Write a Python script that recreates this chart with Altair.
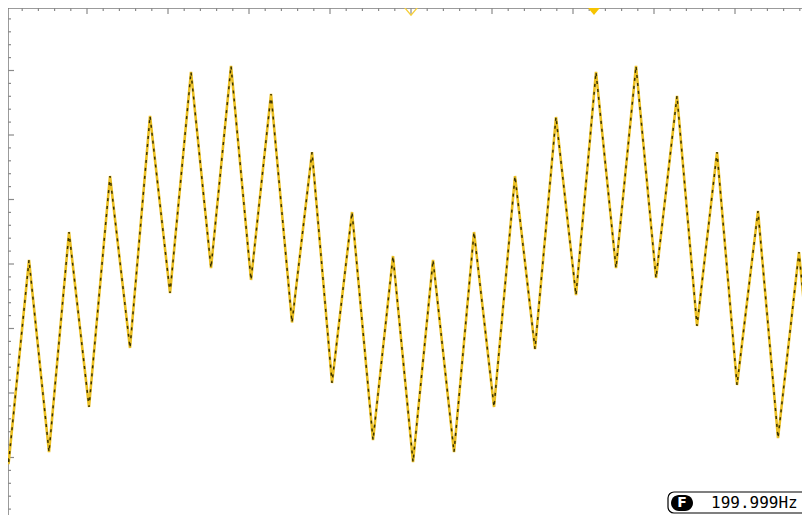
import altair as alt
import pandas as pd

# Waveform vertices: time and voltage in graticule divisions
t_div = [0.012, 0.031, 0.284, 0.531, 0.778, 1.025, 1.284, 1.531, 1.778, 2.025,
         2.284, 2.531, 2.778, 3.025, 3.272, 3.531, 3.778, 4.025, 4.272, 4.531,
         4.778, 5.025, 5.272, 5.531, 5.778, 6.025, 6.284, 6.531, 6.790, 7.037,
         7.284, 7.531, 7.778, 8.025, 8.284, 8.531, 8.778, 9.025, 9.284, 9.531,
         9.790, 10.037]
v_div = [-2.884, -3.101, 0.062, -2.915, 0.496, -2.217, 1.364, -1.302, 2.295, -0.450,
         2.977, -0.062, 3.070, -0.248, 2.636, -0.907, 1.736, -1.845, 0.806, -2.729,
         0.124, -3.070, 0.062, -2.915, 0.496, -2.217, 1.364, -1.318, 2.279, -0.481,
         2.977, -0.062, 3.070, -0.217, 2.605, -0.961, 1.736, -1.876, 0.822, -2.698,
         0.186, -3.070]

# Markers at top of screen (division positions)
marker_t = [5.0, 7.259]
marker_filled = [False, True]

freq_label = "199.999Hz"
freq_badge = "F"

PX_X = 81.0   # pixels per horizontal division
PX_Y = 64.5   # pixels per vertical division
W, H = 794, 507
x_dom = [2 / PX_X, 2 / PX_X + W / PX_X]
y_top = 256 / PX_Y
y_dom = [y_top - H / PX_Y, y_top]

xs = alt.Scale(domain=x_dom, nice=False, zero=False)
ys = alt.Scale(domain=y_dom, nice=False, zero=False)

wave = pd.DataFrame({"t": t_div, "v": v_div})

# graticule frame and ticks
rows = []
rows.append(dict(x=x_dom[0], x2=x_dom[0], y=y_dom[0], y2=y_dom[1]))
rows.append(dict(x=x_dom[0], x2=x_dom[1], y=y_dom[1], y2=y_dom[1]))
frame = pd.DataFrame(rows)

ticks = []
for k in range(1, 50):
    u = 0.2 * k
    major = (k % 5 == 0)
    ln = (6 if major else 3) / PX_Y
    ticks.append(dict(x=u, x2=u, y=y_dom[1], y2=y_dom[1] - ln))
for k in range(-19, 20):
    v = 0.2 * k
    major = (k % 5 == 0)
    ln = (6 if major else 3) / PX_X
    ticks.append(dict(x=x_dom[0], x2=x_dom[0] + ln, y=v, y2=v))
tick_df = pd.DataFrame(ticks)

base_enc = dict(
    x=alt.X("x:Q", scale=xs, axis=None),
    x2="x2:Q",
    y=alt.Y("y:Q", scale=ys, axis=None),
    y2="y2:Q",
)

frame_layer = alt.Chart(frame).mark_rule(color="#7a7a7a", strokeWidth=1.5).encode(**base_enc)
tick_layer = alt.Chart(tick_df).mark_rule(color="#8a8a8a", strokeWidth=1.2).encode(**base_enc)

wave_x = alt.X("t:Q", scale=xs, axis=None)
wave_y = alt.Y("v:Q", scale=ys, axis=None)
wave_yellow = alt.Chart(wave).mark_line(color="#ecc024", strokeWidth=2.6, clip=True).encode(
    x=wave_x, y=wave_y, order="t:Q")
wave_dark = alt.Chart(wave).mark_line(color="#3b3300", strokeWidth=1.5, strokeDash=[3, 5],
                                      clip=True).encode(x=wave_x, y=wave_y, order="t:Q")

tri = "M -1 -0.6 L 1 -0.6 L 0 0.6 Z"
mk = pd.DataFrame({"t": marker_t, "filled": marker_filled,
                   "v": [y_top - 2.5 / PX_Y] * len(marker_t)})
mk_hollow = alt.Chart(mk[~mk["filled"]]).mark_point(
    shape=tri, size=250, filled=False, color="#f6cf3a", strokeWidth=1.3, opacity=1
).encode(x=wave_x, y=wave_y)
mk_solid = alt.Chart(mk[mk["filled"]]).mark_point(
    shape=tri, size=230, filled=True, color="#f6c400", opacity=1
).encode(x=wave_x, y=wave_y)

# frequency read-out box (kept inside the visible page)
bx0, by0, by1 = 668, 492, 513
box = pd.DataFrame([dict(x=(bx0 - 6) / PX_X, x2=10.3, y=(264 - by0) / PX_Y, y2=(264 - by1) / PX_Y)])
box_layer = alt.Chart(box).mark_rect(fill="white", stroke="black", strokeWidth=1.2,
                                     cornerRadius=6, clip=True).encode(**base_enc)
pill = pd.DataFrame([dict(x=(bx0 + 3 - 6) / PX_X, x2=(bx0 + 25 - 6) / PX_X,
                          y=(264 - by0 - 3) / PX_Y, y2=(264 - by1 + 2) / PX_Y)])
pill_layer = alt.Chart(pill).mark_rect(fill="black", cornerRadius=8).encode(**base_enc)
mid = (by0 + by1) / 2
lbl = pd.DataFrame([dict(x=(bx0 + 14 - 6) / PX_X, y=(264 - mid) / PX_Y, s=freq_badge)])
lbl_layer = alt.Chart(lbl).mark_text(color="white", font="DejaVu Sans", fontWeight="bold",
                                     fontSize=14, align="center", baseline="middle").encode(
    x=alt.X("x:Q", scale=xs, axis=None), y=alt.Y("y:Q", scale=ys, axis=None), text="s:N")
txt = pd.DataFrame([dict(x=(bx0 + 43 - 6) / PX_X, y=(264 - mid) / PX_Y, s=freq_label)])
txt_layer = alt.Chart(txt).mark_text(color="black", font="DejaVu Sans Mono",
                                     fontSize=16, align="left", baseline="middle").encode(
    x=alt.X("x:Q", scale=xs, axis=None), y=alt.Y("y:Q", scale=ys, axis=None), text="s:N")

chart = alt.layer(
    frame_layer, tick_layer, wave_yellow, wave_dark, mk_hollow, mk_solid,
    box_layer, pill_layer, lbl_layer, txt_layer
).properties(
    width=W, height=H, padding=0, autosize="none", background="white"
).configure_view(stroke=None)

chart.save("out.html", embed_options={"renderer": "svg", "actions": False})
